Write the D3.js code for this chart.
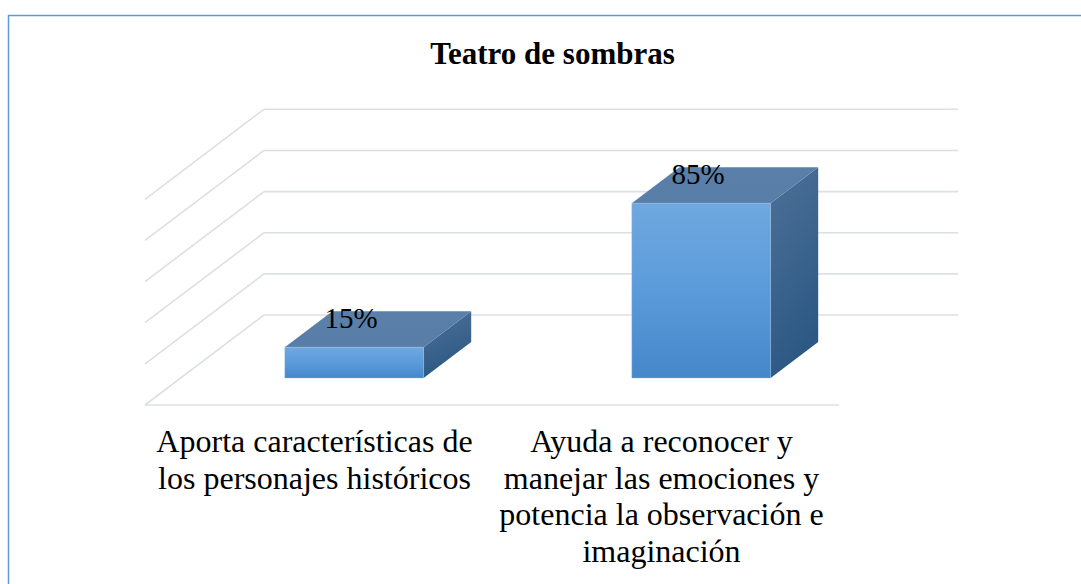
<!DOCTYPE html>
<html>
<head>
<meta charset="utf-8">
<script src="https://cdn.jsdelivr.net/npm/d3@7"></script>
<style>
  html, body { margin: 0; padding: 0; background: #ffffff; }
  svg { display: block; }
</style>
</head>
<body>
<svg id="chart" width="1081" height="584"></svg>
<script>
// ---- data ----
const title = "Teatro de sombras";
const categories = [
  "Aporta características de los personajes históricos",
  "Ayuda a reconocer y manejar las emociones y potencia la observación e imaginación"
];
const categoryLines = [
  ["Aporta características de", "los personajes históricos"],
  ["Ayuda a reconocer y", "manejar las emociones y", "potencia la observación e", "imaginación"]
];
const values = [0.15, 0.85];
const valueLabels = ["15%", "85%"];
const yTicks = [0, 0.2, 0.4, 0.6, 0.8, 1.0];

// ---- layout ----
const FONT = "'Liberation Serif', Tinos, 'Times New Roman', Times, 'DejaVu Serif', serif";
const svg = d3.select("#chart").attr("font-family", FONT);
const W = 694;              // width of the back wall
const backX0 = 264;         // back wall left x
const backY0 = 315;         // back wall zero line y
const H = 205.7;            // height of 100%
const depthDX = -119;       // depth vector (back -> front)
const depthDY = 90;
const barD0 = 0.3, barD1 = 0.7;   // bar depth range (fraction from back)

const x = d3.scaleBand().domain(categories).range([0, W]).paddingInner(0.6).paddingOuter(0.3);
const y = d3.scaleLinear().domain([0, 1]).range([0, H]);

function P(xw, v, d) {
  return [backX0 + xw + d * depthDX, backY0 - y(v) + d * depthDY];
}

// border
svg.append("rect")
  .attr("x", 8.5).attr("y", 15.5).attr("width", 1200).attr("height", 700)
  .attr("fill", "none").attr("stroke", "#5b9bd5").attr("stroke-width", 1.5);

// title
svg.append("text")
  .attr("x", 552.5).attr("y", 64.3)
  .attr("text-anchor", "middle")
  .attr("font-family", FONT)
  .attr("font-size", 31).attr("font-weight", "bold")
  .text(title);

// defs: gradients
const defs = svg.append("defs");
const gFront = defs.append("linearGradient").attr("id", "gFront")
  .attr("x1", 0).attr("y1", 0).attr("x2", 0).attr("y2", 1);
gFront.append("stop").attr("offset", "0%").attr("stop-color", "#70a8de");
gFront.append("stop").attr("offset", "50%").attr("stop-color", "#5b9bdb");
gFront.append("stop").attr("offset", "100%").attr("stop-color", "#4587c9");
const gSide = defs.append("linearGradient").attr("id", "gSide")
  .attr("x1", 0).attr("y1", 0).attr("x2", 0.3).attr("y2", 1);
gSide.append("stop").attr("offset", "0%").attr("stop-color", "#4d7198");
gSide.append("stop").attr("offset", "100%").attr("stop-color", "#2c5883");
const gTop = defs.append("linearGradient").attr("id", "gTop")
  .attr("x1", 0).attr("y1", 0).attr("x2", 0).attr("y2", 1);
gTop.append("stop").attr("offset", "0%").attr("stop-color", "#5a80aa");
gTop.append("stop").attr("offset", "100%").attr("stop-color", "#587ea8");

// gridlines: back wall + side wall
const grid = svg.append("g").attr("stroke", "#dcdfe5").attr("stroke-width", 1.6).attr("fill", "none");
yTicks.forEach(t => {
  const a = P(0, t, 0), b = P(W, t, 0), c = P(0, t, 1);
  grid.append("line").attr("x1", a[0]).attr("y1", a[1]).attr("x2", b[0]).attr("y2", b[1]);
  grid.append("line").attr("x1", a[0]).attr("y1", a[1]).attr("x2", c[0]).attr("y2", c[1]);
});
// floor front edge
{
  const a = P(0, 0, 1), b = P(W, 0, 1);
  grid.append("line").attr("x1", a[0]).attr("y1", a[1]).attr("x2", b[0]).attr("y2", b[1]);
}

// bars
const line = d3.line();
const bars = svg.append("g");
categories.forEach((c, i) => {
  const x0 = x(c), x1 = x(c) + x.bandwidth(), v = values[i];
  const g = bars.append("g");
  // right side face
  g.append("path").attr("fill", "url(#gSide)")
    .attr("d", line([P(x1, 0, barD1), P(x1, 0, barD0), P(x1, v, barD0), P(x1, v, barD1)]) + "Z");
  // top face
  g.append("path").attr("fill", "url(#gTop)")
    .attr("d", line([P(x0, v, barD1), P(x1, v, barD1), P(x1, v, barD0), P(x0, v, barD0)]) + "Z");
  // front face
  g.append("path").attr("fill", "url(#gFront)")
    .attr("stroke", "#8fbbe6").attr("stroke-width", 0.6).attr("stroke-opacity", 0.6)
    .attr("d", line([P(x0, 0, barD1), P(x1, 0, barD1), P(x1, v, barD1), P(x0, v, barD1)]) + "Z");
  // value label
  const ft = P((x0 + x1) / 2, v, barD1);
  svg.append("text")
    .attr("x", ft[0] - 3).attr("y", ft[1] - 19)
    .attr("text-anchor", "middle").attr("font-family", FONT).attr("font-size", 29)
    .text(valueLabels[i]);
});

// category labels
categories.forEach((c, i) => {
  const p = P(x(c) + x.bandwidth() / 2, 0, 1);
  const t = svg.append("text")
    .attr("text-anchor", "middle").attr("font-family", FONT).attr("font-size", 32);
  categoryLines[i].forEach((ln, k) => {
    t.append("tspan").attr("x", p[0] - 4).attr("y", 452 + k * 36.5).text(ln);
  });
});
</script>
</body>
</html>
